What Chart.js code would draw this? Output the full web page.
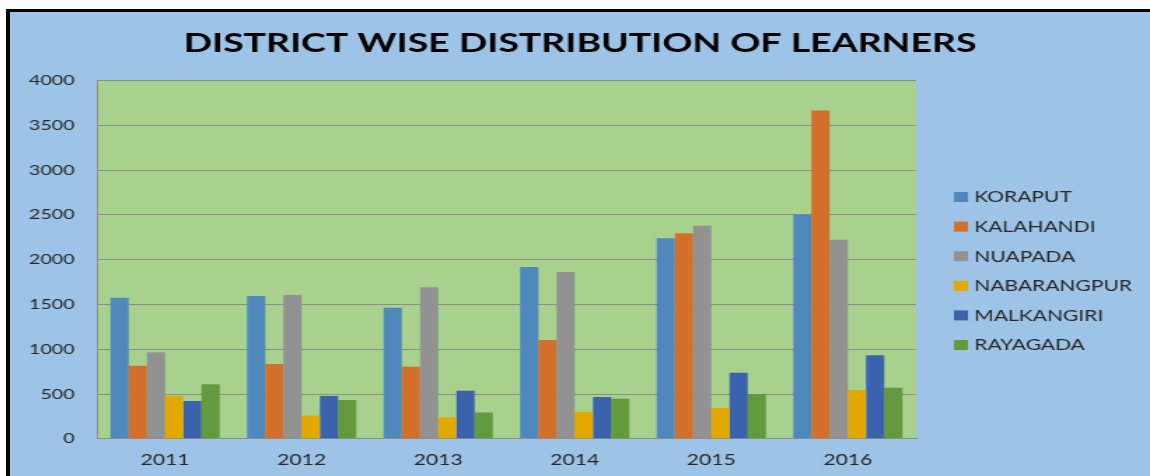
<!DOCTYPE html>
<html lang="en">
<head>
    <meta charset="UTF-8">
    <title>District Wise Distribution of Learners</title>
    <script src="https://cdn.jsdelivr.net/npm/chart.js"></script>
    <style>
        body {
            margin: 0;
            background-color: #ffffff;
            overflow: hidden;
        }
        .frame {
            position: absolute;
            left: 6px;
            top: 9px;
            width: 1144px;
            height: 467px;
            box-sizing: border-box;
            border-top: 3px solid #000;
            border-left: 4px solid #000;
            background-color: #9DC3E6;
            overflow: hidden;
        }
        /* the original picture is stretched sideways, so stretch the canvas the same way */
        #learnersChart {
            transform: scaleX(1.4005);
            transform-origin: 0 0;
        }
    </style>
</head>
<body>
    <div class="frame">
        <canvas id="learnersChart" width="814" height="464"></canvas>
    </div>

    <script>
        const years = ['2011', '2012', '2013', '2014', '2015', '2016'];
        const districts = ['KORAPUT', 'KALAHANDI', 'NUAPADA', 'NABARANGPUR', 'MALKANGIRI', 'RAYAGADA'];
        const koraput = [1575, 1594, 1464, 1918, 2239, 2503];
        const kalahandi = [815, 835, 804, 1103, 2295, 3665];
        const nuapada = [965, 1606, 1692, 1862, 2380, 2223];
        const nabarangpur = [477, 257, 242, 298, 343, 544];
        const malkangiri = [421, 477, 536, 466, 737, 932];
        const rayagada = [608, 432, 295, 447, 499, 570];
        const yTicks = [0, 500, 1000, 1500, 2000, 2500, 3000, 3500, 4000];

        const colors = ['#4F88BD', '#D2702B', '#929292', '#E3A900', '#3B63AD', '#639A3D'];
        const series = [koraput, kalahandi, nuapada, nabarangpur, malkangiri, rayagada];

        // green plot background
        const plotBackground = {
            id: 'plotBackground',
            beforeDraw(chart) {
                const { ctx, chartArea } = chart;
                ctx.save();
                ctx.fillStyle = '#A9D18E';
                ctx.fillRect(chartArea.left, chartArea.top, chartArea.right - chartArea.left, chartArea.bottom - chartArea.top);
                ctx.restore();
            }
        };

        // legend on the right, drawn from the datasets
        const sideLegend = {
            id: 'sideLegend',
            afterDraw(chart) {
                const ctx = chart.ctx;
                ctx.save();
                ctx.font = '15px Lato';
                ctx.textBaseline = 'middle';
                chart.data.datasets.forEach((ds, i) => {
                    const cy = 185 + i * 29.6;
                    ctx.fillStyle = ds.backgroundColor;
                    ctx.fillRect(674, cy - 5, 10, 10);
                    ctx.fillStyle = '#262626';
                    ctx.fillText(ds.label, 688.5, cy + 0.5);
                });
                ctx.restore();
            }
        };

        new Chart(document.getElementById('learnersChart'), {
            type: 'bar',
            data: {
                labels: years,
                datasets: districts.map((name, i) => ({
                    label: name,
                    data: series[i],
                    backgroundColor: colors[i],
                    borderWidth: 0,
                    barPercentage: 1.0,
                    categoryPercentage: 0.8
                }))
            },
            options: {
                responsive: false,
                animation: false,
                devicePixelRatio: 1,
                layout: {
                    padding: 0
                },
                plugins: {
                    legend: { display: false },
                    tooltip: { enabled: false },
                    title: {
                        display: true,
                        text: 'DISTRICT WISE DISTRIBUTION OF LEARNERS',
                        color: '#000000',
                        font: { family: 'Lato', size: 26.7, weight: 'bold', lineHeight: 1.2 },
                        padding: { top: 15, bottom: 21.5 }
                    }
                },
                scales: {
                    x: {
                        grid: { display: false, drawTicks: false },
                        border: { display: true, color: '#8C8C8C', width: 1 },
                        ticks: {
                            color: '#262626',
                            font: { family: 'Lato', size: 15 },
                            padding: 12
                        },
                        afterFit(scale) { scale.height = 37.2; }
                    },
                    y: {
                        min: 0,
                        max: 4000,
                        afterBuildTicks(scale) { scale.ticks = yTicks.map(v => ({ value: v })); },
                        grid: { color: '#8C8C8C', lineWidth: 1, drawTicks: false },
                        border: { display: true, color: '#8C8C8C', width: 1 },
                        ticks: {
                            color: '#262626',
                            font: { family: 'Lato', size: 14 },
                            padding: 16,
                            callback: (v) => String(v)
                        },
                        afterFit(scale) { scale.width = 62; }
                    },
                    // empty right-hand box that keeps room for the legend
                    side: {
                        type: 'linear',
                        position: 'right',
                        grid: { display: false, drawTicks: false },
                        border: { display: false },
                        ticks: { display: false },
                        afterFit(scale) { scale.width = 167; }
                    }
                }
            },
            plugins: [plotBackground, sideLegend]
        });
    </script>
</body>
</html>
